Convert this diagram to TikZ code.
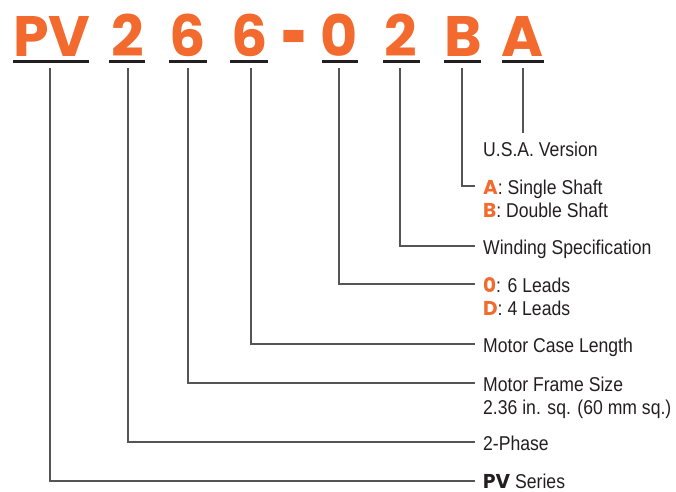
\documentclass[tikz,border=0pt]{standalone}
\usepackage{fontspec}
\usepackage{graphicx}
\setmainfont{Liberation Sans}[FakeStretch=0.88]
\newfontfamily\bigfont{Poppins}
\definecolor{pvorange}{HTML}{F26A2D}
\definecolor{ink}{HTML}{231F20}
\definecolor{wirec}{HTML}{555555}
\begin{document}
\begin{tikzpicture}[x=1pt,y=-1pt,
  big/.style={anchor=base, inner sep=0pt, text=pvorange, font=\bigfont\bfseries\fontsize{57}{57}\selectfont},
  uline/.style={fill=ink, draw=none, minimum height=3pt, inner sep=0pt, anchor=center},
  wire/.style={draw=wirec, line width=1.1pt},
  lbl/.style={anchor=base west, inner sep=0pt, text=ink, font=\fontsize{20}{23.5}\selectfont},
  hi/.style={}]
\useasboundingbox (0,0) rectangle (676,491);
% code letters
\node[big] (lPV) at (52,56) {PV};
\node[big] (l2a) at (127.5,56) {2};
\node[big] (l6a) at (187.5,56) {6};
\node[big] (l6b) at (249.5,56) {6};
\node[big] (ldash) at (295,66) {\scalebox{0.8}[1.5]{-}};
\node[big] (l0) at (339.5,56) {0};
\node[big] (l2b) at (401,56) {2};
\node[big] (lB) at (463.5,56) {B};
\node[big] (lA) at (522.5,56) {A};
% underlines
\node[uline, minimum width=76pt] (uPV) at (51,61.5) {};
\node[uline, minimum width=36pt] (u2a) at (127,61.5) {};
\node[uline, minimum width=38pt] (u6a) at (188,61.5) {};
\node[uline, minimum width=38pt] (u6b) at (249,61.5) {};
\node[uline, minimum width=36pt] (u0) at (340,61.5) {};
\node[uline, minimum width=37pt] (u2b) at (401.5,61.5) {};
\node[uline, minimum width=37pt] (uB) at (462.5,61.5) {};
\node[uline, minimum width=42pt] (uA) at (523,61.5) {};
% connector ends
\coordinate (sA) at (523,68);  \coordinate (eA) at (523,133);
\coordinate (sB) at (462,68);  \coordinate (eB) at (475,186);
\coordinate (s2b) at (400,68); \coordinate (e2b) at (475,246);
\coordinate (s0) at (339,68);  \coordinate (e0) at (475,284);
\coordinate (s6b) at (251,68); \coordinate (e6b) at (475,344);
\coordinate (s6a) at (188,68); \coordinate (e6a) at (475,383);
\coordinate (s2a) at (128,68); \coordinate (e2a) at (475,442);
\coordinate (sPV) at (50,68);  \coordinate (ePV) at (475,481);
\draw[wire] (sA) -- (eA);
\draw[wire] (sB) |- (eB);
\draw[wire] (s2b) |- (e2b);
\draw[wire] (s0) |- (e0);
\draw[wire] (s6b) |- (e6b);
\draw[wire] (s6a) |- (e6a);
\draw[wire] (s2a) |- (e2a);
\draw[wire] (sPV) |- (ePV);
% labels
\node[lbl] (tA) at (483,156) {U.S.A. Version};
\node[lbl] (tB1) at (483,194) {{\bigfont\bfseries\color{pvorange}A}: Single Shaft};
\node[lbl] (tB2) at (483,217.5) {{\bigfont\bfseries\color{pvorange}B}: Double Shaft};
\node[lbl] (t2b) at (483,254) {Winding Specification};
\node[lbl] (t01) at (483,292) {{\bigfont\bfseries\color{pvorange}0}: 6 Leads};
\node[lbl] (t02) at (483,315.5) {{\bigfont\bfseries\color{pvorange}D}: 4 Leads};
\node[lbl] (t6b) at (483,352) {Motor Case Length};
\node[lbl] (t6a1) at (483,391) {Motor Frame Size};
\node[lbl] (t6a2) at (483,414.5) {2.36 in. sq. (60 mm sq.)};
\node[lbl] (t2a) at (483,450) {2-Phase};
\node[lbl] (tPV) at (483,488) {{\bigfont\bfseries PV} Series};
\end{tikzpicture}
\end{document}
